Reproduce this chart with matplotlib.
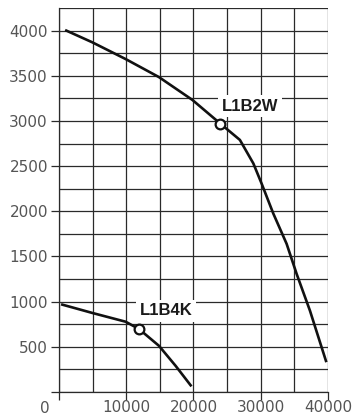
import matplotlib.pyplot as plt
import numpy as np

plt.rcParams['font.family'] = ['DejaVu Sans']

# krzywa L1B2W
x_b2w = [1090, 4960, 9910, 14870, 19830, 24000, 26900, 28900, 30130, 31870, 33850, 35340, 37320, 39700]
y_b2w = [4000, 3870, 3685, 3485, 3233, 2970, 2790, 2530, 2307, 1975, 1640, 1307, 900, 344]
pt_b2w = (24000, 2970)

# krzywa L1B4K
x_b4k = [500, 4960, 9910, 11900, 14870, 17350, 19580]
y_b4k = [967, 875, 778, 697, 511, 289, 74]
pt_b4k = (11900, 697)

xticks = [10000, 20000, 30000, 40000]
yticks = [500, 1000, 1500, 2000, 2500, 3000, 3500, 4000]

fig = plt.figure(figsize=(3.56, 4.19), dpi=100)
ax = fig.add_axes([0.1657, 0.0644, 0.7556, 0.9165])

ax.set_xlim(0, 40000)
ax.set_ylim(0, 4250)

# siatka co 5000 / 250
ax.set_xticks(np.arange(0, 40001, 5000), minor=True)
ax.set_yticks(np.arange(0, 4251, 250), minor=True)
ax.grid(which='both', color='#2a2a2a', linewidth=0.9)
ax.set_axisbelow(True)

ax.set_xticks([0] + xticks)
ax.set_xticklabels([''] + [str(v) for v in xticks])
ax.set_yticks([0] + yticks)
ax.set_yticklabels([''] + [str(v) for v in yticks])
ax.tick_params(which='major', direction='out', length=6, width=0.9, color='#2a2a2a',
               labelsize=11, labelcolor='#555555', pad=2)
ax.tick_params(axis='x', which='major', pad=0)
ax.tick_params(which='minor', length=0)
ax.annotate('0', xy=(0, 0), xytext=(-14, -16), textcoords='offset pixels',
            ha='center', va='center', fontsize=11, color='#555555', annotation_clip=False)

for s in ax.spines.values():
    s.set_color('#2a2a2a')
    s.set_linewidth(0.9)
ax.spines['top'].set_visible(False)
ax.spines['right'].set_visible(False)

ax.plot(x_b2w, y_b2w, color='#111111', linewidth=1.9, solid_joinstyle='round', zorder=3)
ax.plot(x_b4k, y_b4k, color='#111111', linewidth=1.9, solid_joinstyle='round', zorder=3)
ax.plot(*pt_b2w, 'o', ms=7, mfc='white', mec='#111111', mew=1.6, zorder=4)
ax.plot(*pt_b4k, 'o', ms=7, mfc='white', mec='#111111', mew=1.6, zorder=4)

box = dict(facecolor='white', edgecolor='none', pad=2.5)
ax.text(28400, 3160, 'L1B2W', fontsize=12, fontweight='bold', family='Liberation Sans',
        ha='center', va='center', color='#1a1a1a', bbox=box, zorder=5)
ax.text(15900, 900, 'L1B4K', fontsize=12, fontweight='bold', family='Liberation Sans',
        ha='center', va='center', color='#1a1a1a', bbox=box, zorder=5)

fig.savefig('out.png', dpi=100)
